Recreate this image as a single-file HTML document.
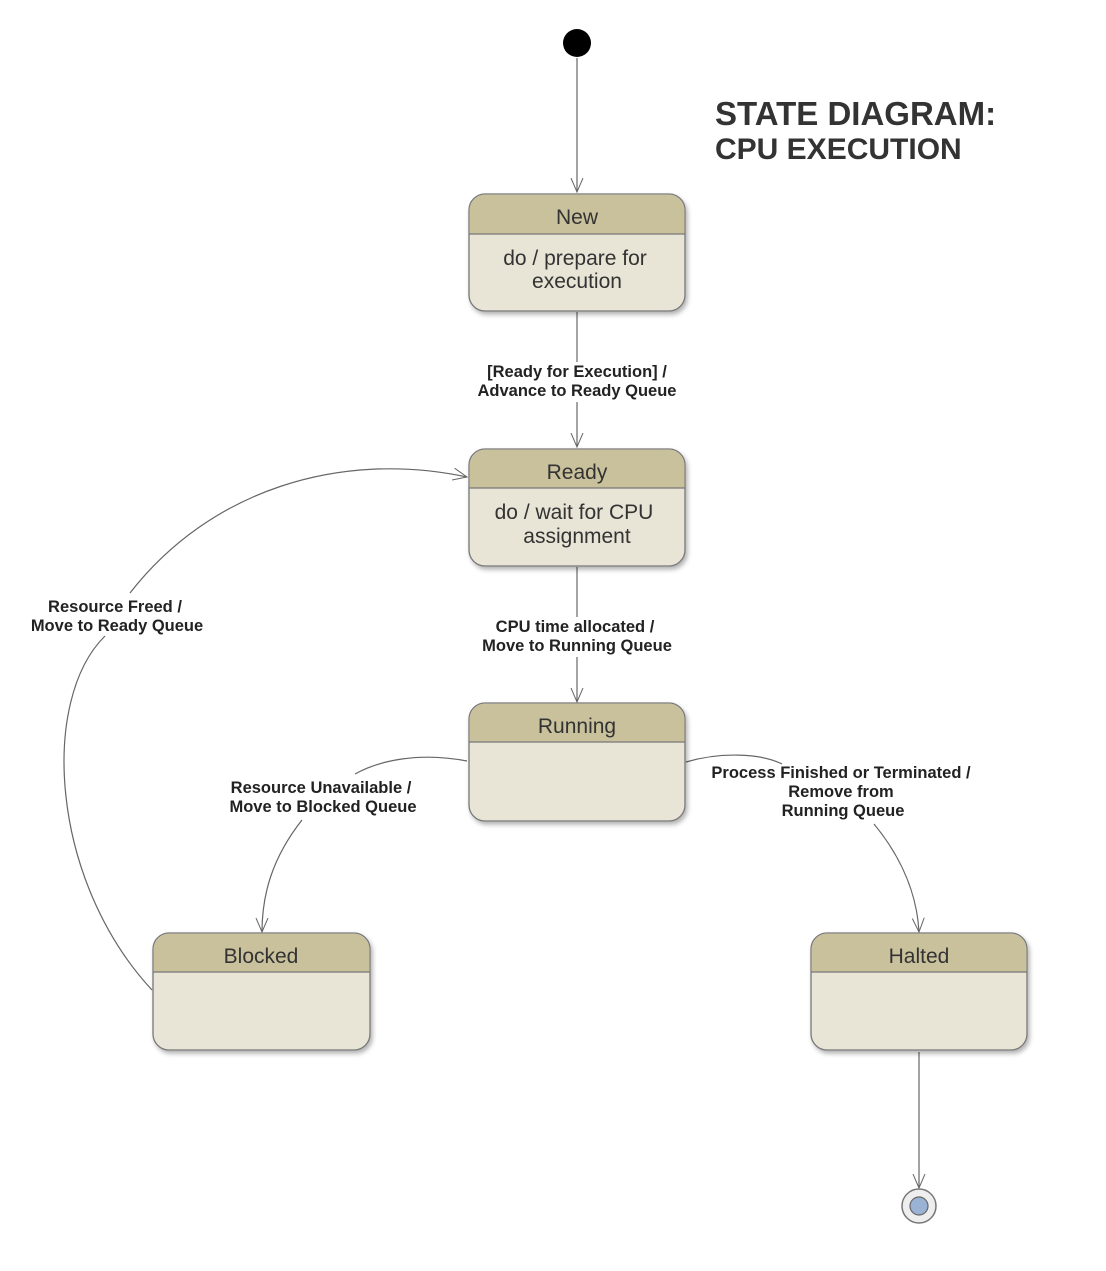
<!DOCTYPE html>
<html><head><style>
body{margin:0;background:#fff}
svg text{font-family:"Liberation Sans",Arial,sans-serif}
</style></head><body>
<svg width="1106" height="1266" viewBox="0 0 1106 1266" xmlns="http://www.w3.org/2000/svg">
<defs>
<filter id="sh" x="-10%" y="-10%" width="130%" height="130%"><feDropShadow dx="2" dy="3" stdDeviation="2.5" flood-color="#000" flood-opacity="0.3"/></filter>
<marker id="ar" markerWidth="16" markerHeight="16" refX="14" refY="7" orient="auto" markerUnits="userSpaceOnUse" viewBox="0 0 16 14"><path d="M0,1 L14,7 L0,13" fill="none" stroke="#666" stroke-width="1"/></marker>
</defs>
<g stroke="#666" stroke-width="1.2" fill="none">
<line x1="577" y1="58" x2="577" y2="192" marker-end="url(#ar)"/>
<line x1="577" y1="312" x2="577" y2="362"/>
<line x1="577" y1="402" x2="577" y2="447" marker-end="url(#ar)"/>
<line x1="577" y1="567" x2="577" y2="617"/>
<line x1="577" y1="657" x2="577" y2="702" marker-end="url(#ar)"/>
<line x1="919" y1="1052" x2="919" y2="1188" marker-end="url(#ar)"/>
<path d="M152,990 C50,880 40,700 105,636"/>
<path d="M130,593 C210,490 340,450 467,477" marker-end="url(#ar)"/>
<path d="M467,761 C420,752 380,760 355,774"/>
<path d="M302,820 C272,858 262,895 262,932" marker-end="url(#ar)"/>
<path d="M686,762 C720,752 760,753 782,764"/>
<path d="M874,824 C902,858 917,895 919,932" marker-end="url(#ar)"/>
</g>
<circle cx="577" cy="43" r="14" fill="#000"/>
<circle cx="919" cy="1206" r="17" fill="#eee" stroke="#777" stroke-width="1.5"/>
<circle cx="919" cy="1206" r="9" fill="#9ab3d5" stroke="#666" stroke-width="1.2"/>
<g filter="url(#sh)">
<rect x="469" y="194" width="216" height="117" rx="16" fill="#e8e4d6" stroke="#777" stroke-width="1.3"/>
<rect x="469" y="449" width="216" height="117" rx="16" fill="#e8e4d6" stroke="#777" stroke-width="1.3"/>
<rect x="469" y="703" width="216" height="118" rx="16" fill="#e8e4d6" stroke="#777" stroke-width="1.3"/>
<rect x="153" y="933" width="217" height="117" rx="16" fill="#e8e4d6" stroke="#777" stroke-width="1.3"/>
<rect x="811" y="933" width="216" height="117" rx="16" fill="#e8e4d6" stroke="#777" stroke-width="1.3"/>
</g>
<path d="M469.6,234 V210 a16,16 0 0 1 16,-15.4 H668 a16,16 0 0 1 16.4,15.4 V234 Z" fill="#c9c09c"/>
<path d="M469.6,488 V465 a16,16 0 0 1 16,-15.4 H668 a16,16 0 0 1 16.4,15.4 V488 Z" fill="#c9c09c"/>
<path d="M469.6,742 V719 a16,16 0 0 1 16,-15.4 H668 a16,16 0 0 1 16.4,15.4 V742 Z" fill="#c9c09c"/>
<path d="M153.6,972 V949 a16,16 0 0 1 16,-15.4 H353 a16,16 0 0 1 16.4,15.4 V972 Z" fill="#c9c09c"/>
<path d="M811.6,972 V949 a16,16 0 0 1 16,-15.4 H1010 a16,16 0 0 1 16.4,15.4 V972 Z" fill="#c9c09c"/>
<g stroke="#777" stroke-width="1.3">
<line x1="469" y1="234" x2="685" y2="234"/>
<line x1="469" y1="488" x2="685" y2="488"/>
<line x1="469" y1="742" x2="685" y2="742"/>
<line x1="153" y1="972" x2="370" y2="972"/>
<line x1="811" y1="972" x2="1027" y2="972"/>
</g>
<g fill="#333" font-size="21" text-anchor="middle">
<text x="577" y="224">New</text>
<text x="575" y="265">do / prepare for</text>
<text x="577" y="288">execution</text>
<text x="577" y="479">Ready</text>
<text x="574" y="519">do / wait for CPU</text>
<text x="577" y="543">assignment</text>
<text x="577" y="733">Running</text>
<text x="261" y="963">Blocked</text>
<text x="919" y="963">Halted</text>
</g>
<g fill="#222" font-size="16.5" font-weight="bold" text-anchor="middle">
<text x="577" y="377">[Ready for Execution] /</text>
<text x="577" y="396">Advance to Ready Queue</text>
<text x="575" y="632">CPU time allocated /</text>
<text x="577" y="651">Move to Running Queue</text>
<text x="115" y="612">Resource Freed /</text>
<text x="117" y="631">Move to Ready Queue</text>
<text x="321" y="793">Resource Unavailable /</text>
<text x="323" y="812">Move to Blocked Queue</text>
<text x="841" y="778">Process Finished or Terminated /</text>
<text x="841" y="797">Remove from</text>
<text x="843" y="816">Running Queue</text>
</g>
<g fill="#333" font-weight="bold">
<text x="715" y="125" font-size="33">STATE DIAGRAM:</text>
<text x="715" y="159" font-size="30">CPU EXECUTION</text>
</g>
</svg>
</body></html>
